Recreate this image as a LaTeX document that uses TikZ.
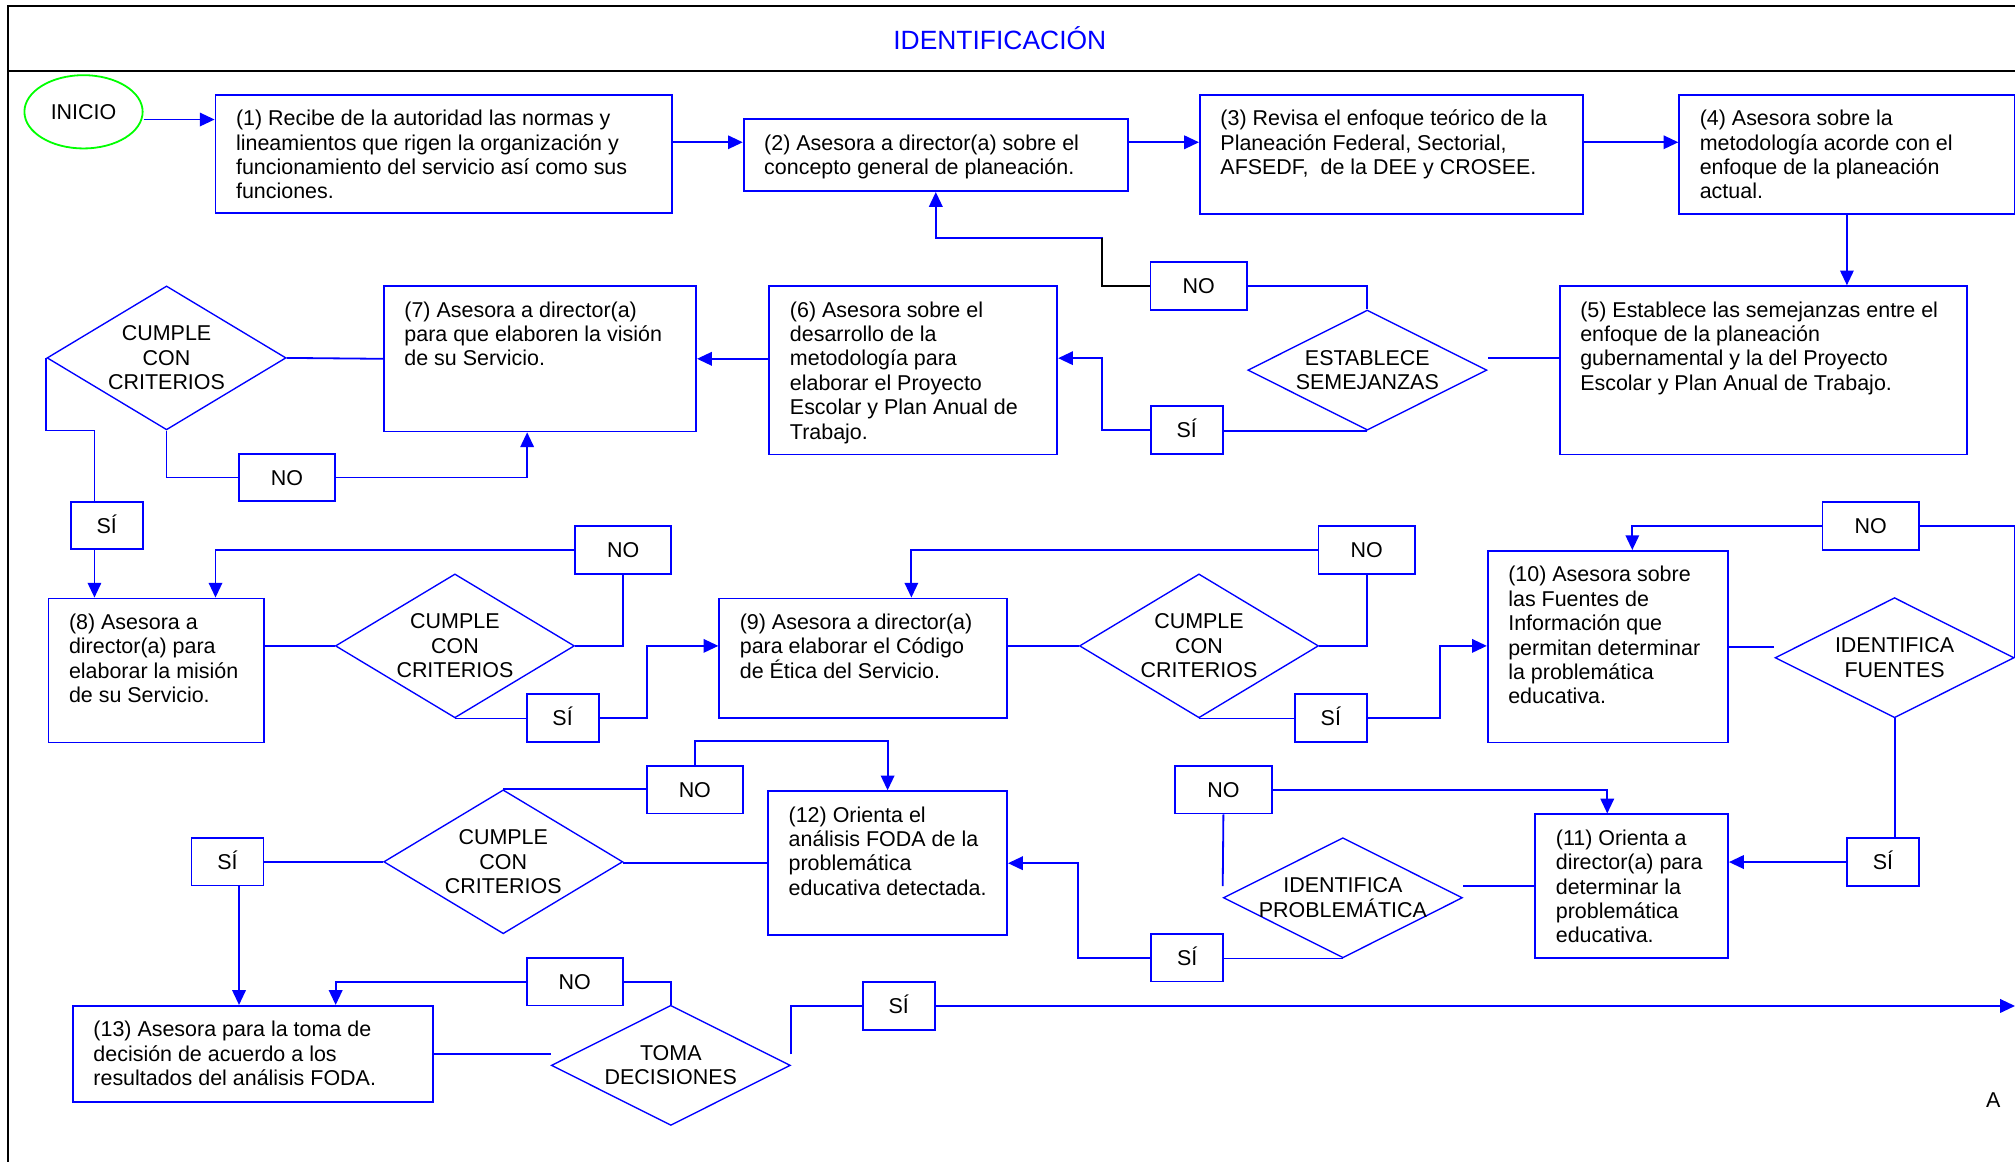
\documentclass[tikz,border=0pt]{standalone}
\usepackage{fontspec}
\setmainfont{Liberation Sans}
\usepackage{tikz}
\usetikzlibrary{arrows.meta}
\usetikzlibrary{shapes.geometric}
\newlength{\unidad}
\setlength{\unidad}{0.2mm}
\newcommand{\textocaja}[3]{\parbox[c][\dimexpr #2\unidad-4.8mm\relax][t]{\dimexpr #1\unidad-6.4mm\relax}{#3}}

\begin{document}
\begin{tikzpicture}[
      x=0.2mm, y=-0.2mm,
      font=\fontsize{9.5}{10.8}\selectfont,
      linea/.style ={draw=blue, line width=0.8pt},
      flecha/.style ={linea, -{Triangle[length=2.3mm,width=2.1mm]}},
      caja/.style ={rectangle, draw=blue, line width=0.8pt, anchor=north west, inner xsep=3.2mm, inner ysep=2.4mm},
      rombo/.style ={diamond, draw=blue, line width=0.6pt, align=center, inner sep=0pt, minimum width=37.2mm},
      rombo alto/.style ={rombo, minimum height=22.4mm, aspect=1.66},
      rombo bajo/.style ={rombo, minimum height=18.7mm, aspect=2},
      inicio/.style ={ellipse, draw=green, line width=0.8pt, minimum width=18.4mm, minimum height=11.4mm, inner sep=0pt},
      etiqueta/.style ={rectangle, draw=blue, line width=0.8pt, minimum height=7.4mm, inner sep=0pt, text height=6.8pt, text depth=0pt},
      etq no/.style ={etiqueta, minimum width=15mm},
      etq si/.style ={etiqueta, minimum width=11.2mm},
      marco/.style ={draw=black, line width=1pt}
    ]
    \useasboundingbox (0,0) rectangle (1568,904) ;
    \draw [marco] (6.5,904) -- (6.5,4.4) -- (1568,4.4) ;
    \draw [marco] (6.5,55.5) -- (1568,55.5) ;
    \node [font=\fontsize{11.7}{14}\selectfont, text=blue] (titulo) at (778,30) {IDENTIFICACIÓN} ;

    \node [inicio] (inicio) at (65,87) {INICIO} ;
    \node [caja] (p1) at (167,73) {\textocaja{355}{92}{(1) Recibe de la autoridad las normas y\\lineamientos que rigen la organización y\\funcionamiento del servicio así como sus\\funciones.}} ;
    \node [caja] (p2) at (578,92) {\textocaja{299}{56}{(2) Asesora a director(a) sobre el\\concepto general de planeación.}} ;
    \node [caja] (p3) at (933,73) {\textocaja{298}{93}{(3) Revisa el enfoque teórico de la\\Planeación Federal, Sectorial,\\AFSEDF,~ de la DEE y CROSEE.}} ;
    \node [caja] (p4) at (1306,73) {\textocaja{261}{93}{(4) Asesora sobre la\\metodología acorde con el\\enfoque de la planeación\\actual.}} ;
    \node [caja] (p5) at (1213,222) {\textocaja{317}{131}{(5) Establece las semejanzas entre el\\enfoque de la planeación\\gubernamental y la del Proyecto\\Escolar y Plan Anual de Trabajo.}} ;
    \node [caja] (p6) at (598,222) {\textocaja{224}{131}{(6) Asesora sobre el\\desarrollo de la\\metodología para\\elaborar el Proyecto\\Escolar y Plan Anual de\\Trabajo.}} ;
    \node [caja] (p7) at (298,222) {\textocaja{243}{113}{(7) Asesora a director(a)\\para que elaboren la visión\\de su Servicio.}} ;
    \node [caja] (p8) at (37,465) {\textocaja{168}{112}{(8) Asesora a\\director(a) para\\elaborar la misión\\de su Servicio.}} ;
    \node [caja] (p9) at (559,465) {\textocaja{224}{93}{(9) Asesora a director(a)\\para elaborar el Código\\de Ética del Servicio.}} ;
    \node [caja] (p10) at (1157,428) {\textocaja{187}{149}{(10) Asesora sobre\\las Fuentes de\\Información que\\permitan determinar\\la problemática\\educativa.}} ;
    \node [caja] (p11) at (1194,633) {\textocaja{150}{112}{(11) Orienta a\\director(a) para\\determinar la\\problemática\\educativa.}} ;
    \node [caja] (p12) at (597,615) {\textocaja{186}{112}{(12) Orienta el\\análisis FODA de la\\problemática\\educativa detectada.}} ;
    \node [caja] (p13) at (56,782) {\textocaja{280}{75}{(13) Asesora para la toma de\\decisión de acuerdo a los\\resultados del análisis FODA.}} ;

    \node [rombo bajo] (establece) at (1064,288) {ESTABLECE\\SEMEJANZAS} ;
    \node [rombo alto] (cumple1) at (129.6,278.5) {CUMPLE\\CON\\CRITERIOS} ;
    \node [rombo alto] (cumple2) at (354,502.6) {CUMPLE\\CON\\CRITERIOS} ;
    \node [rombo alto] (cumple3) at (933,502.6) {CUMPLE\\CON\\CRITERIOS} ;
    \node [rombo bajo] (fuentes) at (1474.3,511.8) {IDENTIFICA\\FUENTES} ;
    \node [rombo bajo, inner xsep=-2mm] (problematica) at (1045,698.6) {IDENTIFICA\\PROBLEMÁTICA} ;
    \node [rombo alto] (cumple4) at (391.6,670.6) {CUMPLE\\CON\\CRITERIOS} ;
    \node [rombo bajo] (decisiones) at (522,829) {TOMA\\DECISIONES} ;

    \node [etq no] (no1) at (932.7,222.5) {NO} ;
    \node [etq si] (si1) at (923.5,334.5) {SÍ} ;
    \node [etq no] (no2) at (223.4,371.6) {NO} ;
    \node [etq si] (si2) at (83,409) {SÍ} ;
    \node [etq no] (no3) at (484.9,427.9) {NO} ;
    \node [etq si] (si3) at (437.8,558.7) {SÍ} ;
    \node [etq no] (no4) at (1063.5,427.9) {NO} ;
    \node [etq si] (si4) at (1035.6,558.7) {SÍ} ;
    \node [etq no] (no5) at (1455.7,409.2) {NO} ;
    \node [etq si] (si5) at (1465.2,670.8) {SÍ} ;
    \node [etq no] (no6) at (952,614.5) {NO} ;
    \node [etq si] (si6) at (923.8,745.2) {SÍ} ;
    \node [etq no] (no7) at (540.7,614.5) {NO} ;
    \node [etq si] (si7) at (177,670.6) {SÍ} ;
    \node [etq no] (no8) at (447.3,764) {NO} ;
    \node [etq si] (si8) at (699.4,782.8) {SÍ} ;
    \node (marca) at (1551,856) {A} ;
    \coordinate (fin) at (1568,782.8) ;

    \draw [flecha] ([yshift=-1.2mm]inicio.east) -- ([yshift=-1.2mm]inicio.east -| p1.west) ;
    \draw [flecha] ([yshift=1.8mm]p1.east) -- ([yshift=1.8mm]p1.east -| p2.west) ;
    \draw [flecha] ([yshift=2mm]p2.east) -- ([yshift=2mm]p2.east -| p3.west) ;
    \draw [flecha] ([yshift=1.9mm]p3.east) -- ([yshift=1.9mm]p3.east -| p4.west) ;
    \draw [flecha] (p4.south) -- (p4.south |- p5.north) ;
    \draw [linea] ([yshift=1.9mm]p5.west) -- ([yshift=1.9mm]p5.west -| establece.east) ;
    \draw [linea] (establece.north) |- (no1.east) ;
    \draw [flecha] (no1.west) -- ++(-37,0) -- ++(0,-37.5) -| (p2.south) ;
    \draw [black, line width=0.8pt] (no1.west) -- ++(-37,0) -- ++(0,-37.5) ;
    \draw [linea] (establece.south) -- (establece.south -| si1.east) ;
    \draw [flecha] (si1.west) -- ++(-37,0) |- ([yshift=1.9mm]p6.east) ;
    \draw [flecha] (p6.west |- p7.east) -- (p7.east) ;
    \draw [linea] (p7.west) -- (cumple1.east) ;
    \draw [linea] (cumple1.south) |- (no2.west) ;
    \draw [flecha] (no2.east) -| ([xshift=-2mm]p7.south) ;
    \draw [linea] (cumple1.west) |- ([xshift=-1.9mm]si2.north |- cumple1.south) -- ([xshift=-1.9mm]si2.north) ;
    \draw [flecha] ([xshift=-1.9mm]si2.south) -- ([xshift=-1.9mm]si2.south |- p8.north) ;
    \draw [linea] (p8.east |- cumple2.west) -- (cumple2.west) ;
    \draw [linea] (cumple2.east) -| (no3.south) ;
    \draw [flecha] (no3.west) -| ([xshift=9.2mm]p8.north) ;
    \draw [linea] (cumple2.south) -- (cumple2.south -| si3.west) ;
    \draw [flecha] (si3.east) -- ++(37,0) |- (p9.west |- cumple2.east) ;
    \draw [linea] (p9.east |- cumple3.west) -- (cumple3.west) ;
    \draw [linea] (cumple3.east) -| (no4.south) ;
    \draw [flecha] (no4.west) -| ([xshift=7.5mm]p9.north) ;
    \draw [linea] (cumple3.south) -- (cumple3.south -| si4.west) ;
    \draw [flecha] (si4.east) -- ++(56,0) |- (p10.west |- cumple3.east) ;
    \draw [linea] (p10.east) -- (p10.east -| fuentes.west) ;
    \draw [linea] (fuentes.east) |- (no5.east) ;
    \draw [flecha] (no5.west) -| ([xshift=3.8mm]p10.north) ;
    \draw [linea] (fuentes.south) -- (fuentes.south |- si5.north) ;
    \draw [flecha] (si5.west) -- (si5.west -| p11.east) ;
    \draw [linea] (p11.west) -- (p11.west -| problematica.east) ;
    \draw [linea] ([yshift=1.8mm]problematica.west) -- (no6.south) ;
    \draw [flecha] (no6.east) -| ([xshift=-3.8mm]p11.north) ;
    \draw [linea] (problematica.south) -- (problematica.south -| si6.east) ;
    \draw [flecha] (si6.west) -- ++(-56,0) |- (p12.east) ;
    \draw [linea] (p12.west) -- (p12.west -| cumple4.east) ;
    \draw [linea] (cumple4.north) -- (cumple4.north -| no7.west) ;
    \draw [flecha] (no7.north) -- ++(0,-18.4) -| (p12.north) ;
    \draw [linea] (cumple4.west) -- (cumple4.west -| si7.east) ;
    \draw [flecha] ([xshift=1.8mm]si7.south) -- ([xshift=1.8mm]si7.south |- p13.north) ;
    \draw [linea] (p13.east) -- (p13.east -| decisiones.west) ;
    \draw [linea] (decisiones.north) |- (no8.east) ;
    \draw [flecha] (no8.west) -| ([xshift=12.9mm]p13.north) ;
    \draw [linea] ([yshift=1.7mm]decisiones.east) |- (si8.west) ;
    \draw [flecha] (si8.east) -- (fin) ;
  \end{tikzpicture}
\end{document}
